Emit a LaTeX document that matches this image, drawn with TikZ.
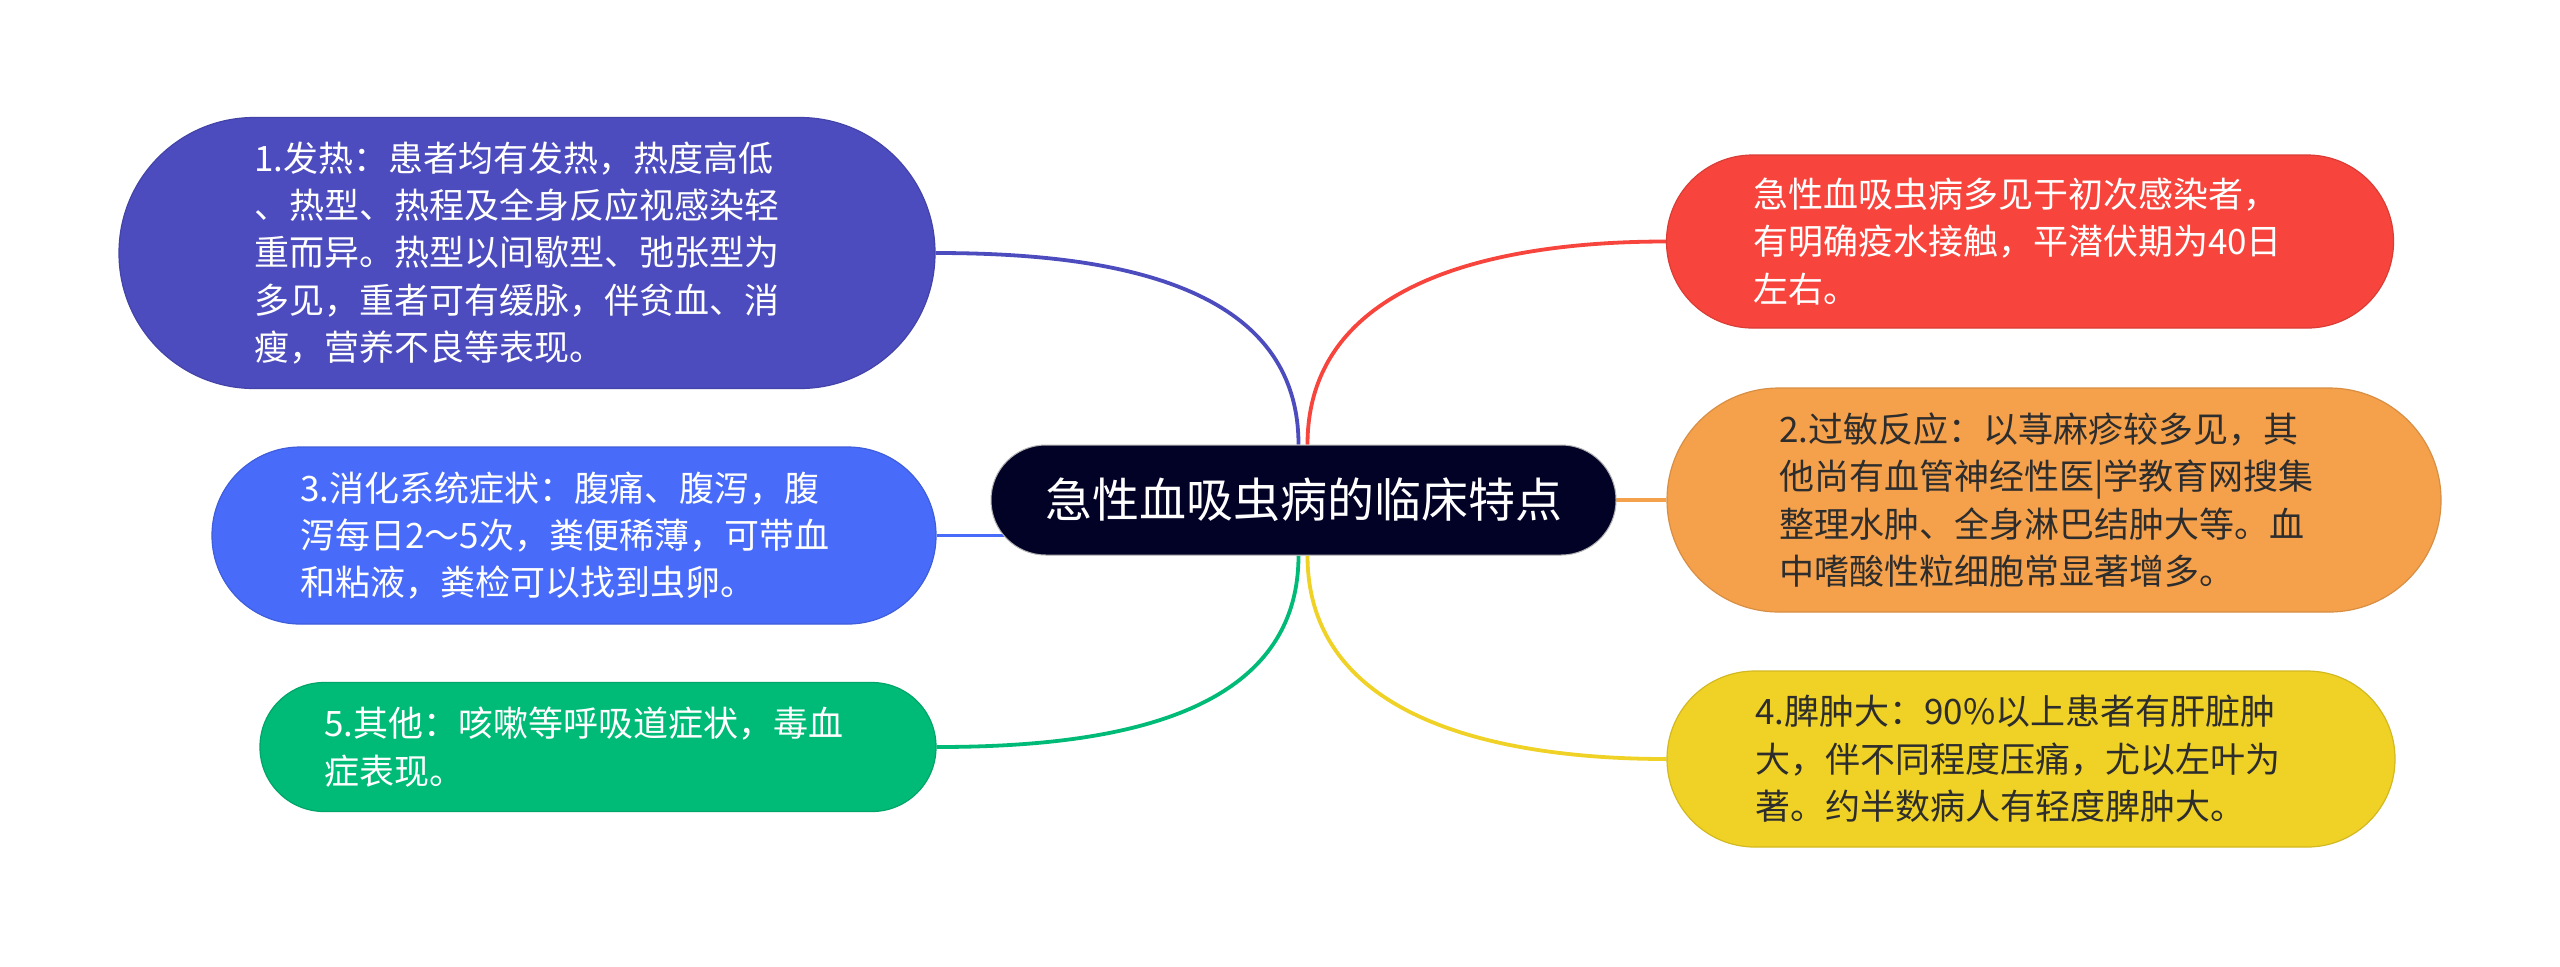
\documentclass[tikz,border=0pt]{standalone}
\usepackage{fontspec}
\setmainfont{Noto Sans CJK SC}
\usetikzlibrary{backgrounds}
\definecolor{cCenter}{RGB}{2,2,38}
\definecolor{cPurple}{RGB}{76,76,191}
\definecolor{cBlue}{RGB}{72,107,250}
\definecolor{cGreen}{RGB}{0,187,119}
\definecolor{cRed}{RGB}{247,69,61}
\definecolor{cOrange}{RGB}{245,161,76}
\definecolor{cYellow}{RGB}{240,210,38}
\definecolor{cDark}{RGB}{45,45,45}
\begin{document}
\begin{tikzpicture}[x=0.5pt,y=-0.5pt,
  pill/.style={rectangle, draw=#1!88!black, line width=0.6pt, fill=#1, align=left,
    inner ysep=0pt, font=\fontsize{17.5pt}{23.7pt}\selectfont},
  link/.style={line width=1.9pt, draw=#1},
  ]
\useasboundingbox (0,0) rectangle (2560,966);

% central topic
\node[rectangle, fill=cCenter, draw=gray!60, line width=0.5pt, text=white,
  minimum width=312.5pt, minimum height=55pt, rounded corners=27.4pt,
  font=\fontsize{23.5pt}{28pt}\selectfont] (c) at (1303.5,500) {急性血吸虫病的临床特点};

% left branches
\node[pill=cPurple, text=white, minimum height=135.5pt, rounded corners=67.6pt,
  inner xsep=67.75pt, text width=272.5pt] (n1) at (527,253)
  {1.发热：患者均有发热，热度高低\\
   、热型、热程及全身反应视感染轻\\
   重而异。热型以间歇型、弛张型为\\
   多见，重者可有缓脉，伴贫血、消\\
   瘦，营养不良等表现。};

\node[pill=cBlue, text=white, minimum height=88.5pt, rounded corners=44.1pt,
  inner xsep=44.25pt, text width=273.5pt] (n3) at (574,535.5)
  {3.消化系统症状：腹痛、腹泻，腹\\
   泻每日2～5次，粪便稀薄，可带血\\
   和粘液，粪检可以找到虫卵。};

\node[pill=cGreen, text=white, minimum height=64.5pt, rounded corners=32.1pt,
  inner xsep=32.25pt, text width=273.5pt] (n5) at (598,747)
  {5.其他：咳嗽等呼吸道症状，毒血\\
   症表现。};

% right branches
\node[pill=cRed, text=white, minimum height=86.5pt, rounded corners=43.1pt,
  inner xsep=43.25pt, text width=277pt] (n0) at (2030,241.5)
  {急性血吸虫病多见于初次感染者，\\
   有明确疫水接触，平潜伏期为40日\\
   左右。};

\node[pill=cOrange, text=cDark, minimum height=112pt, rounded corners=55.9pt,
  inner xsep=56pt, text width=275pt] (n2) at (2054,500)
  {2.过敏反应：以荨麻疹较多见，其\\
   他尚有血管神经性医|学教育网搜集\\
   整理水肿、全身淋巴结肿大等。血\\
   中嗜酸性粒细胞常显著增多。};

\node[pill=cYellow, text=cDark, minimum height=88pt, rounded corners=43.9pt,
  inner xsep=44pt, text width=276pt] (n4) at (2031,759)
  {4.脾肿大：90\%以上患者有肝脏肿\\
   大，伴不同程度压痛，尤以左叶为\\
   著。约半数病人有轻度脾肿大。};

% connectors
\begin{scope}[on background layer]
  \fill[white] (0,0) rectangle (2560,966);
  \coordinate (cTL) at ([xshift=-2.5pt]c.north);
  \coordinate (cTR) at ([xshift=2pt]c.north);
  \coordinate (cBL) at ([xshift=-2.5pt]c.south);
  \coordinate (cBR) at ([xshift=2pt]c.south);
  \draw[link=cPurple] (cTL) .. controls +(0,-165) and +(165,0) .. (n1.east);
  \draw[link=cRed] (cTR) .. controls +(0,-165) and +(-165,0) .. (n0.west);
  \draw[link=cGreen] (cBL) .. controls +(0,165) and +(165,0) .. (n5.east);
  \draw[link=cYellow] (cBR) .. controls +(0,165) and +(-165,0) .. (n4.west);
  \draw[link=cBlue] (n3.east) -- (c.center |- n3.east);
  \draw[link=cOrange] (c.center) -- (n2.west);
\end{scope}
\end{tikzpicture}
\end{document}
